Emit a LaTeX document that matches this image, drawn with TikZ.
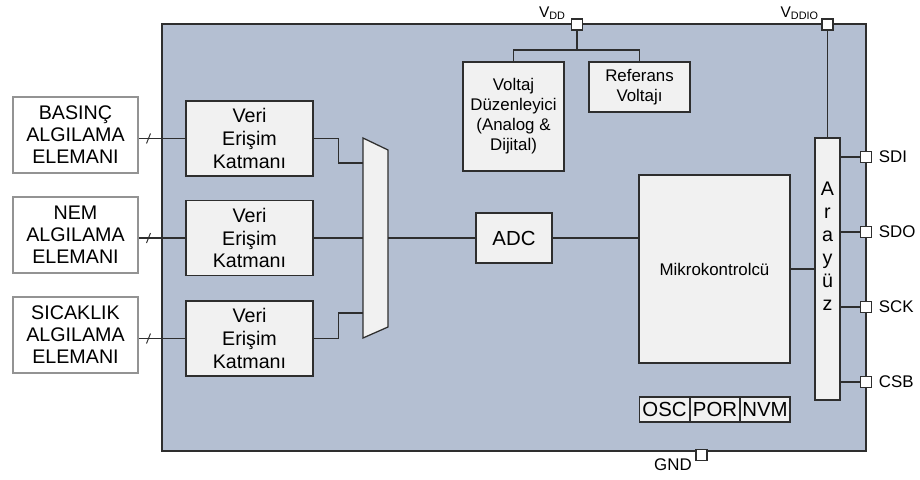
\documentclass[tikz,border=0pt]{standalone}
\usepackage{fontspec}
\setmainfont{Liberation Sans}

\definecolor{chipblue}{HTML}{B4BFD2}
\definecolor{boxgray}{HTML}{F1F1F1}
\definecolor{linedark}{HTML}{2E2E2E}

\tikzset{
    chip/.style={draw=linedark, line width=1pt, fill=chipblue, minimum width=176mm, minimum height=106.75mm, inner sep=0pt},
    sensor/.style={draw=gray!85, line width=1.5pt, fill=white, minimum width=31.25mm, minimum height=19mm, align=center, inner sep=0pt, font=\fontsize{14}{15.6}\selectfont},
    block/.style={draw=linedark, line width=0.9pt, fill=boxgray, align=center, inner sep=0pt},
    veri/.style={minimum width=31.75mm, minimum height=18.75mm, font=\fontsize{14}{16.3}\selectfont},
    cell/.style={minimum width=12.5mm, minimum height=6.25mm, font=\fontsize{14.5}{16}\selectfont},
    pin/.style={draw=linedark, line width=0.9pt, fill=white, minimum size=2.75mm, inner sep=0pt},
    wire/.style={draw=linedark, line width=0.9pt},
    pinlabel/.style={inner sep=0pt, font=\fontsize{12}{14}\selectfont}
}

\begin{document}
\begin{tikzpicture}[x=0.25mm, y=-0.25mm]
    \useasboundingbox (0,0) rectangle (920,479);

    % Chip body
    \node[chip] (chip) at (514,237.5) {};

    % Sensing elements
    \node[sensor] (basinc) at (75.5,135) {BASINÇ\\ALGILAMA\\ELEMANI};
    \node[sensor] (nem) at (75.5,235) {NEM\\ALGILAMA\\ELEMANI};
    \node[sensor] (sicaklik) at (75.5,335) {SICAKLIK\\ALGILAMA\\ELEMANI};

    % Data access layers
    \node[block, veri] (veri1) at (249.5,138.5) {Veri\\Erişim\\Katmanı};
    \node[block, veri] (veri2) at (249.5,238) {Veri\\Erişim\\Katmanı};
    \node[block, veri] (veri3) at (249.5,338.5) {Veri\\Erişim\\Katmanı};

    % Multiplexer
    \draw[block] (363,138) -- (388,150) -- (388,327) -- (363,338) -- cycle;
    \coordinate (muxin1) at (363,163);
    \coordinate (muxin2) at (363,238);
    \coordinate (muxin3) at (363,313);
    \coordinate (muxout) at (388,238);

    % Supply blocks
    \node[block, minimum width=25.25mm, minimum height=27.25mm, font=\fontsize{12}{14.2}\selectfont] (voltaj) at (513.5,116.5) {Voltaj\\Düzenleyici\\(Analog \&\\Dijital)};
    \node[block, minimum width=25.25mm, minimum height=12.5mm, font=\fontsize{12}{14.2}\selectfont] (referans) at (639.5,87) {Referans\\Voltajı};

    % ADC, controller, interface
    \node[block, minimum width=19mm, minimum height=12.5mm, font=\fontsize{14.5}{16}\selectfont] (adc) at (514,238) {ADC};
    \node[block, minimum width=37.75mm, minimum height=47mm, font=\fontsize{12}{14}\selectfont] (mikro) at (714.5,269) {Mikrokontrolcü};
    \node[block, minimum width=6.25mm, minimum height=65.5mm] (arayuz) at (827.5,269) {};
    \node[align=center, inner sep=0pt, yshift=5.75mm, font=\fontsize{14}{16.3}\selectfont] (arayuzyazi) at (arayuz) {A\\r\\a\\y\\ü\\z};

    % OSC / POR / NVM
    \node[block, cell] (osc) at (664.5,409.5) {OSC};
    \node[block, cell] (por) at (715,409.5) {POR};
    \node[block, cell] (nvm) at (765,409.5) {NVM};

    % Pins
    \node[pin] (vdd) at (577,24.5) {};
    \node[pin] (vddio) at (827.5,24.5) {};
    \node[pin] (sdi) at (866,157) {};
    \node[pin] (sdo) at (866,232) {};
    \node[pin] (sck) at (866,307) {};
    \node[pin] (csb) at (866,382) {};
    \node[pin] (gnd) at (701.5,455) {};

    % Pin labels
    \node[pinlabel, anchor=south east, font=\fontsize{11}{13}\selectfont] (vddlabel) at (566,20) {V\textsubscript{DD}};
    \node[pinlabel, anchor=south east, font=\fontsize{11}{13}\selectfont] (vddiolabel) at (819,20) {V\textsubscript{DDIO}};
    \node[pinlabel, anchor=west] (sdilabel) at ([xshift=1.6mm]sdi.east) {SDI};
    \node[pinlabel, anchor=west] (sdolabel) at ([xshift=1.6mm]sdo.east) {SDO};
    \node[pinlabel, anchor=west] (scklabel) at ([xshift=1.6mm]sck.east) {SCK};
    \node[pinlabel, anchor=west] (csblabel) at ([xshift=1.6mm]csb.east) {CSB};
    \node[pinlabel, anchor=east] (gndlabel) at (692,465) {GND};

    % Sensor to data access layer
    \draw[wire] (basinc.east |- veri1.west) -- (veri1.west);
    \draw[wire] (nem.east |- veri2.west) -- (veri2.west);
    \draw[wire] (sicaklik.east |- veri3.west) -- (veri3.west);
    \foreach \y in {138.5,238,338.5}
        \draw[wire, line width=0.7pt] (146.5,\y+5) -- (150.5,\y-5);

    % Data access layer to multiplexer
    \draw[wire] (veri1.east) -- ++(25,0) |- (muxin1);
    \draw[wire] (veri2.east) -- (muxin2);
    \draw[wire] (veri3.east) -- ++(25,0) |- (muxin3);

    % Signal chain
    \draw[wire] (muxout) -- (adc.west);
    \draw[wire] (adc.east) -- (adc.east -| mikro.west);
    \draw[wire] (mikro.east) -- (arayuz.west);

    % Supply
    \coordinate (vddsplit) at (577,50);
    \draw[wire] (vdd) -- (vddsplit);
    \draw[wire] (voltaj.north) |- (vddsplit) -| (referans.north);
    \draw[wire] (vddio) -- (vddio |- arayuz.north);

    % Interface to pins
    \draw[wire] (arayuz.east |- sdi) -- (sdi);
    \draw[wire] (arayuz.east |- sdo) -- (sdo);
    \draw[wire] (arayuz.east |- sck) -- (sck);
    \draw[wire] (arayuz.east |- csb) -- (csb);

\end{tikzpicture}
\end{document}
